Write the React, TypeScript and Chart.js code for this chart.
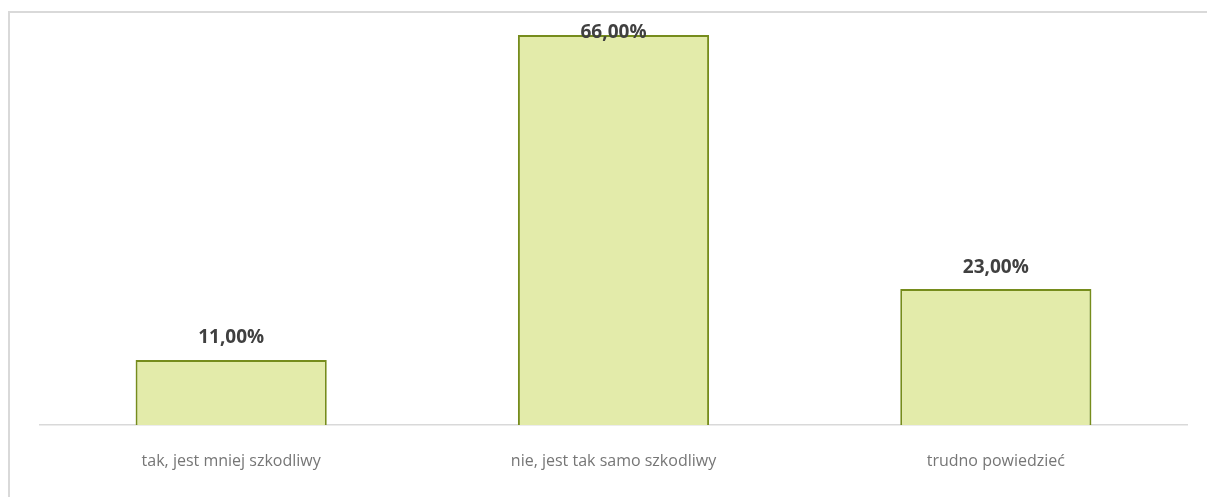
import React, { useEffect, useRef } from "react";
import { Chart, registerables } from "chart.js";

Chart.register(...registerables);

const categories = ["tak, jest mniej szkodliwy", "nie, jest tak samo szkodliwy", "trudno powiedzieć"];
const values = [0.11, 0.66, 0.23];
const yMin = 0;
const yMax = 0.7;

const fmt = (v: number) => (v * 100).toFixed(2).replace(".", ",") + "%";

const valueLabels = {
  id: "valueLabels",
  afterDatasetsDraw(chart: any) {
    const { ctx, chartArea } = chart;
    const meta = chart.getDatasetMeta(0);
    ctx.save();
    ctx.font = "bold 19px 'Open Sans'";
    ctx.fillStyle = "#404040";
    ctx.textAlign = "center";
    ctx.textBaseline = "middle";
    meta.data.forEach((bar: any, i: number) => {
      const y = Math.max(bar.y - 22, chartArea.top + 21);
      ctx.fillText(fmt(values[i]), bar.x, y);
    });
    ctx.restore();
  },
};

export default function App() {
  const ref = useRef<HTMLCanvasElement | null>(null);
  useEffect(() => {
    document.body.style.overflow = "hidden";
    const chart = new Chart(ref.current as HTMLCanvasElement, {
      type: "bar",
      data: {
        labels: categories,
        datasets: [
          {
            data: values,
            backgroundColor: "rgb(227,235,170)",
            borderColor: "rgb(118,140,28)",
            borderWidth: 2,
            categoryPercentage: 1,
            barPercentage: 0.5,
          },
        ],
      },
      options: {
        animation: false,
        responsive: false,
        maintainAspectRatio: false,
        layout: { padding: { left: 40, right: 20, top: 11.4, bottom: 0 } },
        plugins: { legend: { display: false }, tooltip: { enabled: false } },
        scales: {
          x: {
            grid: { display: false, drawTicks: false },
            border: { display: true, color: "#d9d9d9", width: 1.5 },
            ticks: {
              padding: 27,
              color: "#767676",
              font: { family: "'Open Sans'", size: 16 },
            },
            afterFit(scale: any) {
              scale.height = 72;
            },
          },
          y: {
            display: false,
            min: yMin,
            max: yMax,
          },
        },
      },
      plugins: [valueLabels],
    });
    return () => chart.destroy();
  }, []);
  return (
    <div>
      <div
        style={{
          position: "absolute",
          left: 8,
          top: 11,
          width: 1199,
          height: 486,
          borderTop: "2px solid #d9d9d9",
          borderLeft: "2px solid #d9d9d9",
          boxSizing: "border-box",
        }}
      />
      <canvas
        ref={ref}
        width={1207}
        height={497}
        style={{ position: "absolute", left: 0, top: 0, width: 1207, height: 497 }}
      />
    </div>
  );
}
